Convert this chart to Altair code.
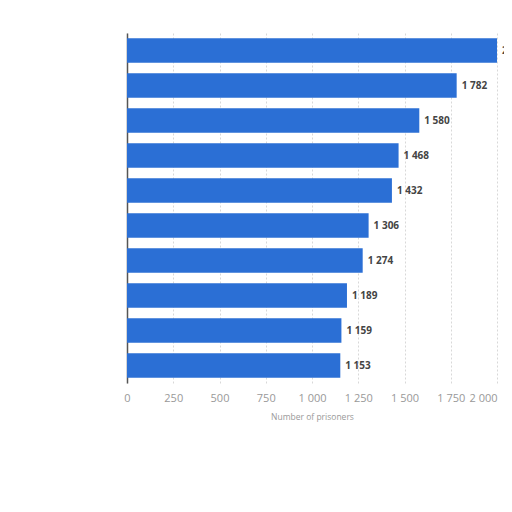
import altair as alt
import pandas as pd

categories = ["Cat 1", "Cat 2", "Cat 3", "Cat 4", "Cat 5", "Cat 6", "Cat 7", "Cat 8", "Cat 9", "Cat 10"]
values = [2105, 1782, 1580, 1468, 1432, 1306, 1274, 1189, 1159, 1153]
labels = ["2 105", "1 782", "1 580", "1 468", "1 432", "1 306", "1 274", "1 189", "1 159", "1 153"]

df = pd.DataFrame({"cat": categories, "value": values, "label": labels})
df["label_x"] = df["value"].clip(upper=2000)

y = alt.Y("cat:N", sort=categories, title=None,
          scale=alt.Scale(paddingInner=0.3, paddingOuter=0.15),
          axis=alt.Axis(labels=False, ticks=False, domain=True, domainColor="#555555",
                        domainWidth=1.5, grid=False))

x_scale = alt.Scale(domain=[0, 2000], nice=False, clamp=False)

bars = alt.Chart(df).mark_bar(color="#2b6fd5", clip=True).encode(
    x=alt.X("value:Q", scale=x_scale, title="Number of prisoners",
            axis=alt.Axis(values=[0, 250, 500, 750, 1000, 1250, 1500, 1750, 2000],
                          labelExpr="replace(format(datum.value, ','), ',', ' ')",
                          labelAlign={"expr": "datum.value == 2000 ? 'right' : 'center'"},
                          labelColor="#999999", labelFontSize=11, labelFont="Open Sans",
                          titleColor="#999999", titleFontSize=8.5, titleFont="Open Sans",
                          titleFontWeight="normal", titlePadding=9,
                          domain=False, ticks=False, labelPadding=9,
                          grid=True, gridDash=[2, 2], gridColor="#d8d8d8")),
    y=y,
)

text = alt.Chart(df).mark_text(align="left", dx=5, fontSize=10, fontWeight="bold",
                               font="Open Sans", color="#444444").encode(
    x=alt.X("label_x:Q", scale=x_scale),
    y=alt.Y("cat:N", sort=categories),
    text="label:N",
)

chart = (bars + text).properties(
    width=370, height=350,
    autosize=alt.AutoSizeParams(type="none"),
    padding={"left": 119, "top": 25, "right": 7, "bottom": 60},
).configure_view(stroke=None)

chart.save("out.html", embed_options={"renderer": "svg", "actions": False})
